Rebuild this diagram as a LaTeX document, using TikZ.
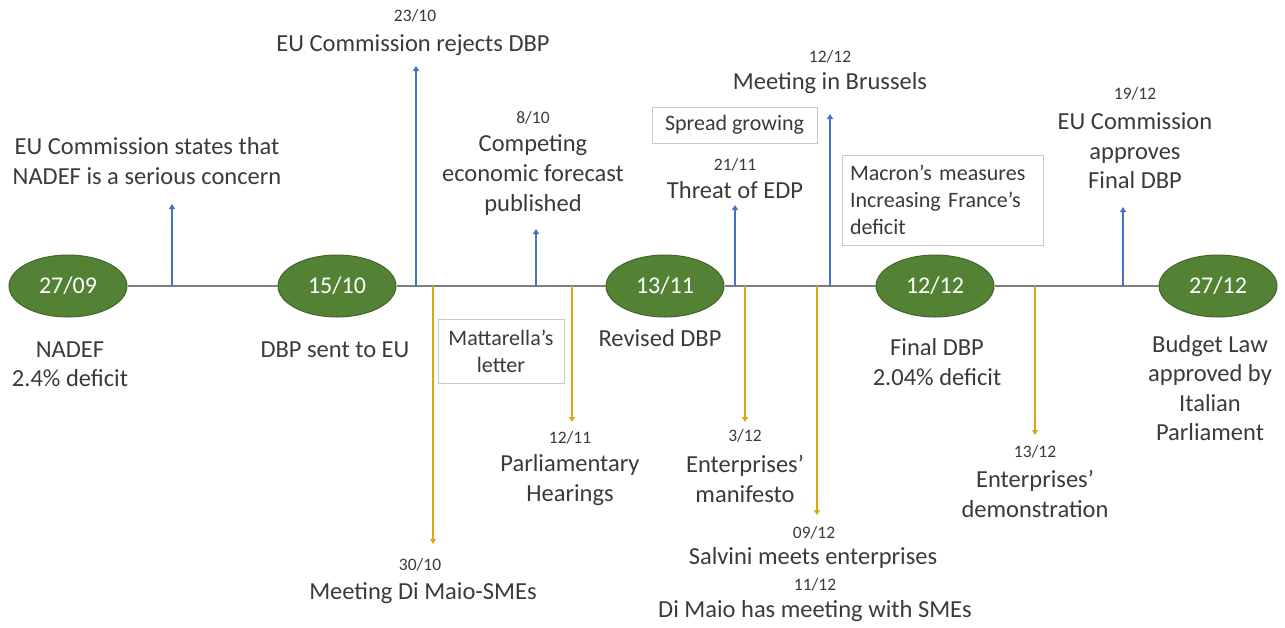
\documentclass[tikz,border=0pt]{standalone}
\usepackage{fontspec}
\setmainfont{Carlito}
\usetikzlibrary{shapes.geometric,arrows.meta}
\definecolor{dgreen}{HTML}{548235}
\definecolor{dgreenb}{HTML}{41662A}
\definecolor{ablue}{HTML}{4472C4}
\definecolor{agold}{HTML}{D9A61C}
\definecolor{tgray}{HTML}{3A3A3A}
\definecolor{lgray}{HTML}{7F7F7F}
\definecolor{bgray}{HTML}{C8C8C8}
\tikzset{
  datenode/.style={ellipse, fill=dgreen, draw=dgreenb, line width=1pt, minimum width=118pt, minimum height=62pt, inner sep=0pt, text=white, font=\fontsize{24}{24}\selectfont},
  lbl/.style={align=center, text=tgray, font=\fontsize{24.5}{29.5}\selectfont, inner sep=0pt},
  sdate/.style={text=tgray, font=\fontsize{17.5}{17.5}\selectfont, inner sep=0pt},
  boxnote/.style={draw=bgray, line width=0.8pt, text=tgray, font=\fontsize{22}{27}\selectfont, inner sep=0pt},
  uparr/.style={draw=ablue, line width=1.1pt, -{Triangle[width=6pt,length=5pt]}},
  dnarr/.style={draw=agold, line width=1.3pt, -{Triangle[width=6pt,length=5pt]}},
  tline/.style={draw=lgray, line width=1.2pt}
}
\begin{document}
\begin{tikzpicture}[x=1pt,y=-1pt]
\useasboundingbox (0,0) rectangle (1285,627);
% timeline nodes
\node[datenode] (d1) at (68,286) {27/09};
\node[datenode] (d2) at (337,286) {15/10};
\node[datenode] (d3) at (665,286) {13/11};
\node[datenode] (d4) at (935,286) {12/12};
\node[datenode] (d5) at (1218,286) {27/12};
% arrow foot coordinates
\coordinate (u1) at (172,286);
\coordinate (u2) at (416,286);
\coordinate (u3) at (536,286);
\coordinate (u4) at (735,286);
\coordinate (u5) at (830,286);
\coordinate (u6) at (1123,286);
\coordinate (w1) at (433,286);
\coordinate (w2) at (572,286);
\coordinate (w3) at (745,286);
\coordinate (w4) at (817,286);
\coordinate (w5) at (1035,286);
\coordinate (ut1) at (172,204);
\coordinate (ut2) at (416,66);
\coordinate (ut3) at (536,229);
\coordinate (ut4) at (735,205);
\coordinate (ut5) at (830,114);
\coordinate (ut6) at (1123,207);
\coordinate (wt1) at (433,544);
\coordinate (wt2) at (572,422);
\coordinate (wt3) at (745,422);
\coordinate (wt4) at (817,515);
\coordinate (wt5) at (1035,435);
% line segments
\draw[tline] (d1) -- (d2);
\draw[tline] (d2) -- (d3);
\draw[tline] (d3) -- (d4);
\draw[tline] (d4) -- (d5);
% arrows
\draw[uparr] (u1) -- (ut1);
\draw[uparr] (u2) -- (ut2);
\draw[uparr] (u3) -- (ut3);
\draw[uparr] (u4) -- (ut4);
\draw[uparr] (u5) -- (ut5);
\draw[uparr] (u6) -- (ut6);
\draw[dnarr] (w1) -- (wt1);
\draw[dnarr] (w2) -- (wt2);
\draw[dnarr] (w3) -- (wt3);
\draw[dnarr] (w4) -- (wt4);
\draw[dnarr] (w5) -- (wt5);
% upper labels
\node[lbl] (t1) at (147,161) {EU Commission states that\\NADEF is a serious concern};
\node[sdate] (s2) at (415,16) {23/10};
\node[lbl] (t2) at (413,45) {EU Commission rejects DBP};
\node[sdate] (s3) at (533,118) {8/10};
\node[lbl] (t3) at (533,175) {Competing\\economic forecast\\published};
\node[boxnote, minimum width=165pt, minimum height=36pt] (b1) at (734.5,125) {Spread growing};
\node[sdate] (s4) at (735,165) {21/11};
\node[lbl] (t4) at (735,190) {Threat of EDP};
\node[sdate] (s5) at (830,57) {12/12};
\node[lbl] (t5) at (830,83) {Meeting in Brussels};
\node[boxnote, minimum width=201pt, minimum height=90pt, align=left, text width=185pt, inner xsep=8pt] (b2) at (942.5,200) {Macron’s measures\\Increasing France’s\\deficit};
\node[sdate] (s6) at (1135,94) {19/12};
\node[lbl] (t6) at (1135,151) {EU Commission\\approves\\Final DBP};
% lower labels
\node[lbl] (n1) at (70,364) {NADEF\\2.4\% deficit};
\node[lbl] (n2) at (335,350) {DBP sent to EU};
\node[boxnote, minimum width=126pt, minimum height=64pt, align=center] (b3) at (501,351) {Mattarella’s\\letter};
\node[lbl] (n3) at (660,338) {Revised DBP};
\node[sdate] (s7) at (570,438) {12/11};
\node[lbl] (n4) at (570,480) {Parliamentary\\Hearings};
\node[sdate] (s8) at (745,436) {3/12};
\node[lbl] (n5) at (745,479) {Enterprises’\\manifesto};
\node[lbl] (n6) at (937,362) {Final DBP\\2.04\% deficit};
\node[sdate] (s9) at (1035,452) {13/12};
\node[lbl] (n7) at (1035,494) {Enterprises’\\demonstration};
\node[lbl] (n8) at (1210,388) {Budget Law\\approved by\\Italian\\Parliament};
\node[sdate] (s10) at (420,565) {30/10};
\node[lbl] (n9) at (423,593) {Meeting Di Maio-SMEs};
\node[sdate] (s11) at (814,533) {09/12};
\node[lbl] (n10) at (813,558) {Salvini meets enterprises};
\node[sdate] (s12) at (815,585) {11/12};
\node[lbl] (n11) at (815,611) {Di Maio has meeting with SMEs};
\end{tikzpicture}
\end{document}
